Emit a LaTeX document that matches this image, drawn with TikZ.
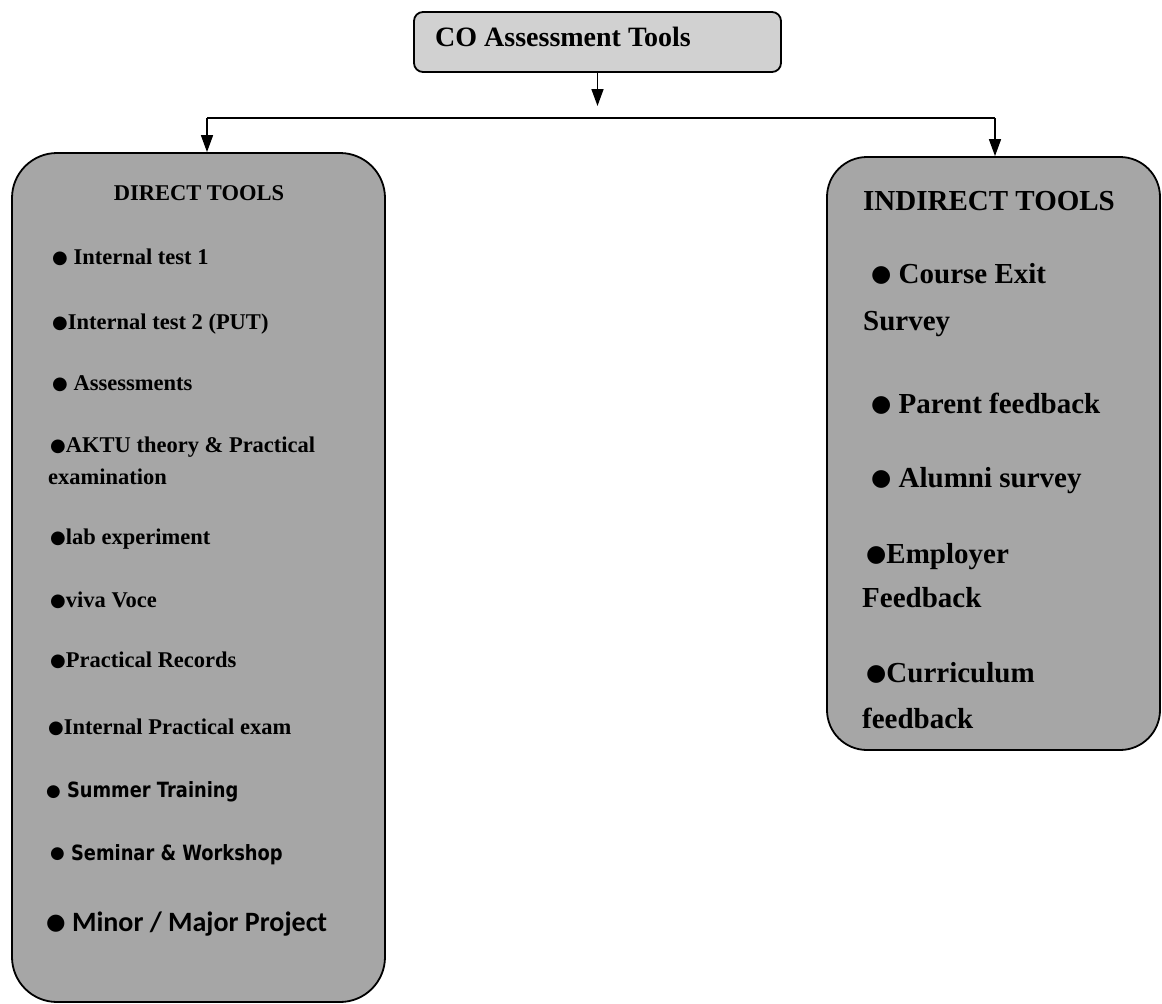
\documentclass[tikz,border=0pt]{standalone}
\usepackage{fontspec}
\setmainfont{Liberation Serif}
\newfontfamily\symfont{DejaVu Sans}
\newfontfamily\tahfont[FakeStretch=0.85]{DejaVu Sans}
\newfontfamily\calfont{Carlito}
\usetikzlibrary{arrows.meta}
\newcommand\bul{\raisebox{0.06em}{\scalebox{0.8}{\symfont\char"25CF}}}
\begin{document}
\begin{tikzpicture}[x=1pt,y=-1pt,
  tbox/.style={draw=black, line width=1.8pt, fill=black!35, inner sep=0pt},
  lbl/.style={anchor=base west, inner sep=0pt, font=\bfseries\fontsize{22.5}{26}\selectfont},
  rlbl/.style={anchor=base west, inner sep=0pt, font=\bfseries\fontsize{29}{33}\selectfont},
  conn/.style={line width=1.6pt},
  arr/.style={conn, -{Triangle[width=12pt,length=17pt]}}]
\useasboundingbox (0,0) rectangle (1162,1004);
% boxes
\node[tbox, rounded corners=9pt, fill=black!18, minimum width=367pt, minimum height=60pt] (co) at (597.5,42) {};
\node[tbox, rounded corners=45pt, minimum width=373pt, minimum height=849pt] (direct) at (198.5,577.5) {};
\node[tbox, rounded corners=40pt, minimum width=333pt, minimum height=593pt] (indirect) at (993.5,453.5) {};
% connectors
\coordinate (tip) at (597.5,106);
\coordinate (jl) at (207,118);
\coordinate (jr) at (995,118);
\draw[arr] (co.south) -- (tip);
\draw[conn] (jl) -- (jr);
\draw[arr] (jl) -- (jl |- direct.north);
\draw[arr] (jr) -- (jr |- indirect.north);
% top text
\node[anchor=base west, inner sep=0pt, font=\bfseries\fontsize{28}{32}\selectfont] (cot) at (435,46) {CO Assessment Tools};
% left box texts
\node[anchor=base, inner sep=0pt, font=\bfseries\fontsize{22.5}{26}\selectfont] (dt) at (199,200) {DIRECT TOOLS};
\node[lbl] (d1) at (52,264.5) {\bul\ Internal test 1};
\node[lbl] (d2) at (52,329.5) {\bul Internal test 2 (PUT)};
\node[lbl] (d3) at (52,390.5) {\bul\ Assessments};
\node[lbl] (d4) at (50,452.5) {\bul AKTU theory \& Practical};
\node[lbl] (d4b) at (48,484.5) {examination};
\node[lbl] (d5) at (50,544.5) {\bul lab experiment};
\node[lbl] (d6) at (50,607.5) {\bul viva Voce};
\node[lbl] (d7) at (50,667.5) {\bul Practical Records};
\node[lbl] (d8) at (48,734.5) {\bul Internal Practical exam};
\node[lbl, font=\tahfont\bfseries\fontsize{21}{25}\selectfont] (d9) at (46,797.5) {\bul\ Summer Training};
\node[lbl, font=\tahfont\bfseries\fontsize{21}{25}\selectfont] (d10) at (50,860) {\bul\ Seminar \& Workshop};
\node[lbl, font=\calfont\bfseries\fontsize{28}{32}\selectfont] (d11) at (46,931) {\bul\ Minor / Major Project};
% right box texts
\node[rlbl] (it) at (863,210) {INDIRECT TOOLS};
\node[rlbl] (i1) at (871,283) {\bul\ Course Exit};
\node[rlbl] (i1b) at (863,330) {Survey};
\node[rlbl] (i2) at (871,413) {\bul\ Parent feedback};
\node[rlbl] (i3) at (871,487) {\bul\ Alumni survey};
\node[rlbl] (i4) at (866,563) {\bul Employer};
\node[rlbl] (i4b) at (862,607) {Feedback};
\node[rlbl] (i5) at (866,682) {\bul Curriculum};
\node[rlbl] (i5b) at (862,728) {feedback};
\end{tikzpicture}
\end{document}
